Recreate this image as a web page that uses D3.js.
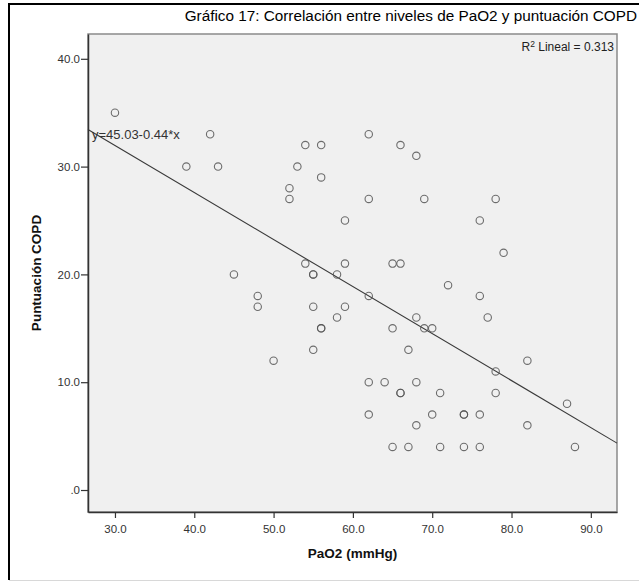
<!DOCTYPE html>
<html><head><meta charset="utf-8">
<script src="https://cdn.jsdelivr.net/npm/d3@7"></script>
<style>
html,body{margin:0;padding:0;background:#fff;}
svg{display:block;font-family:"Liberation Sans",Arial,sans-serif;}
</style>
</head><body>
<svg id="c" width="639" height="582"></svg>
<script>
// ---- data ----
const paO2 = [30,42,39,43,62,54,56,66,68,53,56,52,52,62,69,78,59,76,45,48,48,54,59,65,66,55,55,58,62,55,59,58,68,56,56,65,69,70,55,67,50,62,64,68,66,66,79,72,76,77,82,78,71,78,62,70,68,65,67,71,87,74,74,76,82,74,76,88];
const copd = [35,33,30,30,33,32,32,32,31,30,29,28,27,27,27,27,25,25,20,18,17,21,21,21,21,20,20,20,18,17,17,16,16,15,15,15,15,15,13,13,12,10,10,10,9,9,22,19,18,16,12,11,9,9,7,7,6,4,4,4,8,7,7,7,6,4,4,4];
const xTicks = [30,40,50,60,70,80,90];
const xTickLabels = ["30.0","40.0","50.0","60.0","70.0","80.0","90.0"];
const yTicks = [0,10,20,30,40];
const yTickLabels = [".0","10.0","20.0","30.0","40.0"];
const fitIntercept = 45.03;
const fitSlope = -0.436;
const titleText = "Gráfico 17: Correlación entre niveles de PaO2 y puntuación COPD";
const xTitle = "PaO2 (mmHg)";
const yTitle = "Puntuación COPD";
const r2Label = ["R", "2", " Lineal = 0.313"];
const eqLabel = "y=45.03-0.44*x";

// ---- layout ----
const L = 88, R = 617, T = 34, B = 512;
const svg = d3.select("#c");

const x = d3.scaleLinear().domain([26.6, 93.3]).range([L, R]);
const y = d3.scaleLinear().domain([-2.04, 42.3]).range([B, T]);

// outer frame
svg.append("line").attr("x1",9).attr("x2",639).attr("y1",4).attr("y2",4).attr("stroke","#000").attr("stroke-width",2);
svg.append("line").attr("x1",9).attr("x2",9).attr("y1",3).attr("y2",580).attr("stroke","#000").attr("stroke-width",2);
svg.append("line").attr("x1",9).attr("x2",639).attr("y1",580.5).attr("y2",580.5).attr("stroke","#d8d8d8").attr("stroke-width",1);

// title
svg.append("text").attr("x",637).attr("y",21).attr("text-anchor","end")
  .attr("font-size",15.3).attr("fill","#000").text(titleText);

// plot background
svg.append("rect").attr("x",L).attr("y",T).attr("width",R-L).attr("height",B-T)
  .attr("fill","#f0f0f0").attr("stroke","#8a8a8a").attr("stroke-width",1.5);

// fit line
const xd = x.domain();
svg.append("line")
  .attr("x1", x(xd[0])).attr("y1", y(fitIntercept + fitSlope*xd[0]))
  .attr("x2", x(xd[1])).attr("y2", y(fitIntercept + fitSlope*xd[1]))
  .attr("stroke","#3a3a3a").attr("stroke-width",1.1);

// points
svg.append("g").selectAll("circle").data(paO2.map((v,i)=>[v,copd[i]])).join("circle")
  .attr("cx", d=>x(d[0])).attr("cy", d=>y(d[1])).attr("r",3.7)
  .attr("fill","none").attr("stroke","#555").attr("stroke-width",1.1).attr("stroke-opacity",0.85);

// axes
const xAxis = d3.axisBottom(x).tickValues(xTicks).tickSize(6).tickSizeOuter(0)
  .tickFormat((d,i)=>xTickLabels[i]);
const gx = svg.append("g").attr("transform",`translate(0,${B})`).call(xAxis);
gx.select(".domain").attr("stroke","#333").attr("stroke-width",1.5);
gx.selectAll(".tick line").attr("stroke","#333").attr("stroke-width",1.2);
gx.selectAll(".tick text").attr("font-size",11.5).attr("fill","#333").attr("dy","1.05em")
  .attr("font-family","'Liberation Sans',Arial,sans-serif");

const yAxis = d3.axisLeft(y).tickValues(yTicks).tickSize(7).tickSizeOuter(0)
  .tickFormat((d,i)=>yTickLabels[i]);
const gy = svg.append("g").attr("transform",`translate(${L},0)`).call(yAxis);
gy.select(".domain").attr("stroke","#333").attr("stroke-width",1.5);
gy.selectAll(".tick line").attr("stroke","#333").attr("stroke-width",1.2);
gy.selectAll(".tick text").attr("font-size",11.5).attr("fill","#333").attr("x",-8)
  .attr("font-family","'Liberation Sans',Arial,sans-serif");

// axis titles
svg.append("text").attr("x",(L+R)/2).attr("y",558).attr("text-anchor","middle")
  .attr("font-size",13.5).attr("font-weight","bold").attr("fill","#111").text(xTitle);
svg.append("text").attr("transform",`translate(41,${(T+B)/2}) rotate(-90)`).attr("text-anchor","middle")
  .attr("font-size",13.5).attr("font-weight","bold").attr("fill","#111").text(yTitle);

// R² label
const r2 = svg.append("text").attr("x",R-3).attr("y",T+17).attr("text-anchor","end")
  .attr("font-size",12).attr("fill","#222");
r2.append("tspan").text(r2Label[0]);
r2.append("tspan").attr("dy",-4).attr("font-size",8.5).text(r2Label[1]);
r2.append("tspan").attr("dy",4).text(r2Label[2]);

// equation label
svg.append("text").attr("x",L+4).attr("y",y(fitIntercept + fitSlope*27.8)+4)
  .attr("font-size",13).attr("fill","#333").text(eqLabel);
</script>
</body></html>
